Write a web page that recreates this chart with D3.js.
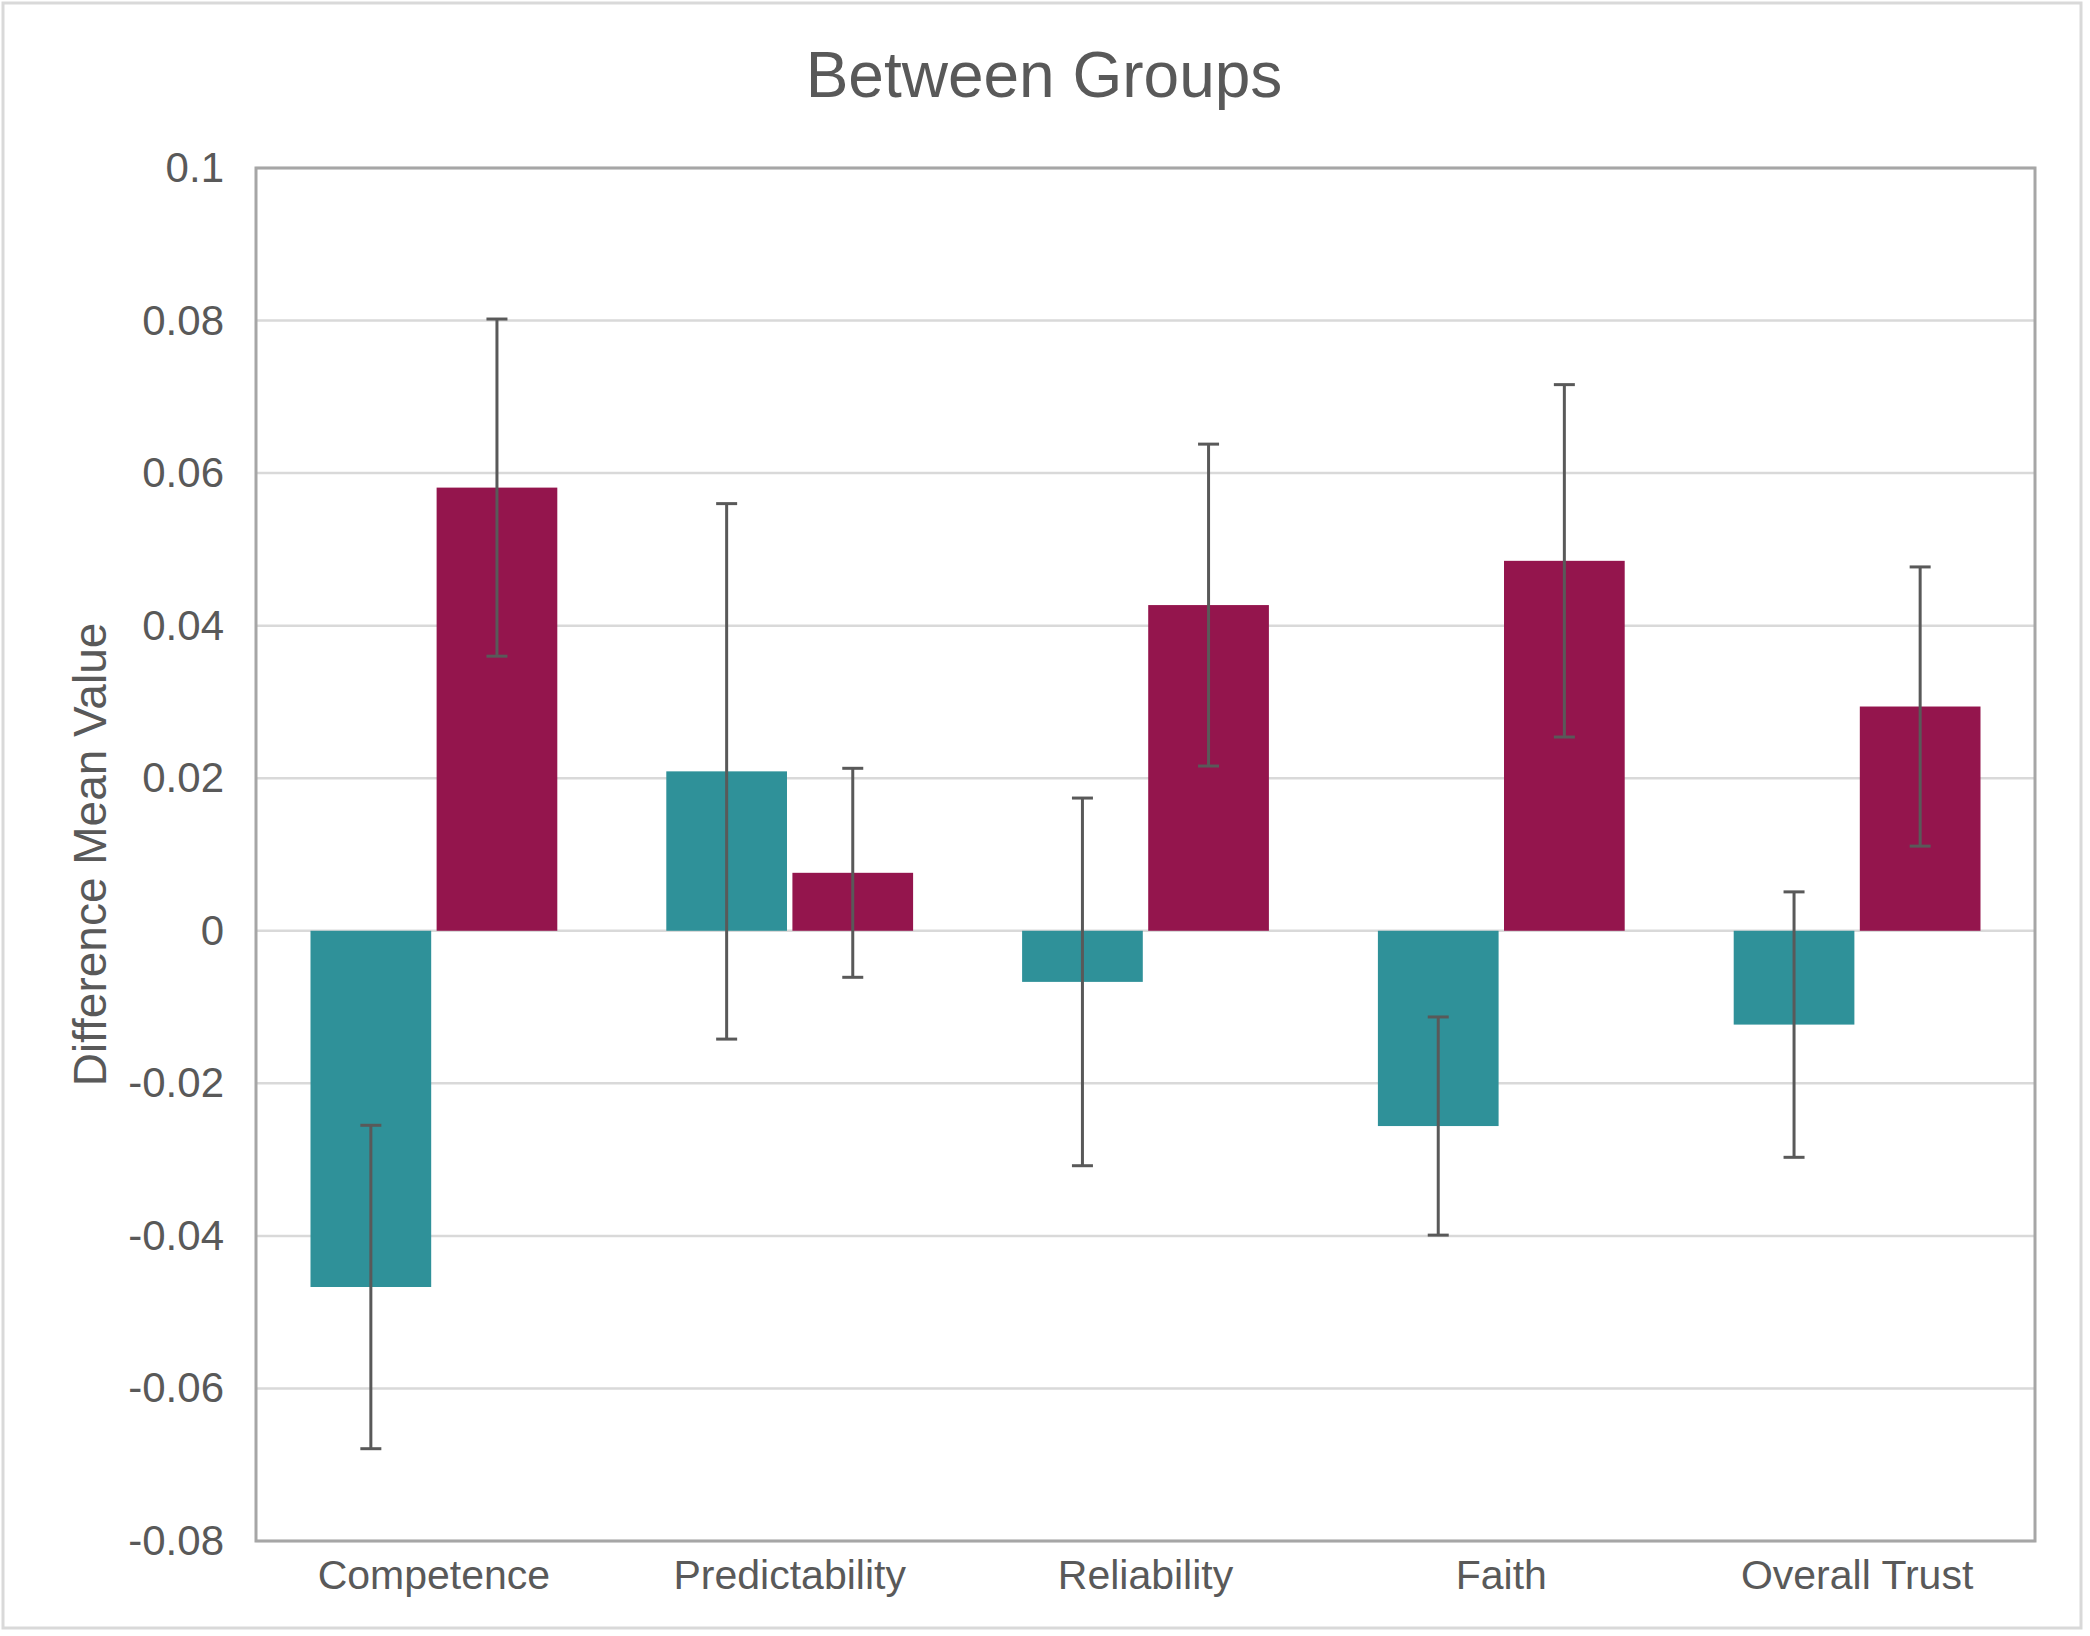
<!DOCTYPE html>
<html>
<head>
<meta charset="utf-8">
<script src="https://cdn.jsdelivr.net/npm/d3@7"></script>
<style>
  body { margin: 0; background: #fff; }
  text { font-family: "Liberation Sans", Arial, sans-serif; fill: #595959; }
</style>
</head>
<body>
<svg id="chart"></svg>
<script>
const width = 2090;
const height = 1636;

// values
const categories = ["Competence", "Predictability", "Reliability", "Faith", "Overall Trust"];
const teal = [-0.0467, 0.0209, -0.0067, -0.0256, -0.0123];
const tealErr = [0.0212, 0.0351, 0.0241, 0.0143, 0.0174];
const purple = [0.0581, 0.0076, 0.0427, 0.0485, 0.0294];
const purpleErr = [0.0221, 0.0137, 0.0211, 0.0231, 0.0183];
const yTicks = [-0.08, -0.06, -0.04, -0.02, 0, 0.02, 0.04, 0.06, 0.08, 0.1];

const series = [
    {key: "a", color: "#2f9199", values: teal, err: tealErr},
    {key: "b", color: "#94154d", values: purple, err: purpleErr}
];

const plot = {left: 256, right: 2035, top: 168, bottom: 1541};

const svg = d3.select("#chart")
    .attr("width", width)
    .attr("height", height);

// chart area border
svg.append("rect")
    .attr("x", 3).attr("y", 3)
    .attr("width", 2078).attr("height", 1625)
    .attr("fill", "#fff")
    .attr("stroke", "#d9d9d9")
    .attr("stroke-width", 3);

const x = d3.scaleBand()
    .domain(categories)
    .range([plot.left, plot.right]);

const bw = x.bandwidth();
const x1 = d3.scaleBand()
    .domain(series.map(s => s.key))
    .range([54.5, bw - 54.5])
    .paddingInner(0.043);

const y = d3.scaleLinear()
    .domain([-0.08, 0.1])
    .range([plot.bottom, plot.top]);

// gridlines
svg.append("g")
    .selectAll("line")
    .data(yTicks)
    .join("line")
    .attr("x1", plot.left)
    .attr("x2", plot.right)
    .attr("y1", d => y(d))
    .attr("y2", d => y(d))
    .attr("stroke", "#d9d9d9")
    .attr("stroke-width", 2.5);

// bars
const groups = svg.append("g")
    .selectAll("g")
    .data(series)
    .join("g")
    .attr("fill", d => d.color);

groups.selectAll("rect")
    .data(s => s.values.map((v, i) => ({key: s.key, cat: categories[i], v})))
    .join("rect")
    .attr("x", d => x(d.cat) + x1(d.key))
    .attr("width", x1.bandwidth())
    .attr("y", d => y(Math.max(0, d.v)))
    .attr("height", d => Math.abs(y(d.v) - y(0)));

// error bars
const errData = series.flatMap(s => s.values.map((v, i) => ({
    cx: x(categories[i]) + x1(s.key) + x1.bandwidth() / 2,
    lo: v - s.err[i],
    hi: v + s.err[i]
})));

const err = svg.append("g")
    .attr("stroke", "#595959")
    .attr("stroke-width", 3)
    .selectAll("g")
    .data(errData)
    .join("g");

err.append("line")
    .attr("x1", d => d.cx).attr("x2", d => d.cx)
    .attr("y1", d => y(d.lo)).attr("y2", d => y(d.hi));

err.append("line")
    .attr("x1", d => d.cx - 10.5).attr("x2", d => d.cx + 10.5)
    .attr("y1", d => y(d.hi)).attr("y2", d => y(d.hi));

err.append("line")
    .attr("x1", d => d.cx - 10.5).attr("x2", d => d.cx + 10.5)
    .attr("y1", d => y(d.lo)).attr("y2", d => y(d.lo));

// plot border
svg.append("rect")
    .attr("x", plot.left).attr("y", plot.top)
    .attr("width", plot.right - plot.left)
    .attr("height", plot.bottom - plot.top)
    .attr("fill", "none")
    .attr("stroke", "#a6a6a6")
    .attr("stroke-width", 3);

// axes
const yAxis = svg.append("g")
    .attr("transform", `translate(${plot.left},0)`)
    .call(d3.axisLeft(y)
        .tickValues(yTicks)
        .tickSize(0)
        .tickPadding(32)
        .tickFormat(d => d === 0 ? "0" : String(+d.toFixed(2))));
yAxis.select(".domain").remove();
yAxis.selectAll("text")
    .attr("font-size", 42)
    .attr("fill", "#595959")
    .style("font-family", '"Liberation Sans", Arial, sans-serif');

const xAxis = svg.append("g")
    .attr("transform", `translate(0,${plot.bottom})`)
    .call(d3.axisBottom(x).tickSize(0).tickPadding(19));
xAxis.select(".domain").remove();
xAxis.selectAll("text")
    .attr("font-size", 41)
    .attr("fill", "#595959")
    .style("font-family", '"Liberation Sans", Arial, sans-serif');

// titles
svg.append("text")
    .attr("x", 1044)
    .attr("y", 97)
    .attr("text-anchor", "middle")
    .attr("font-size", 64)
    .text("Between Groups");

svg.append("text")
    .attr("transform", `translate(106,${(plot.top + plot.bottom) / 2}) rotate(-90)`)
    .attr("text-anchor", "middle")
    .attr("font-size", 46)
    .text("Difference Mean Value");
</script>
</body>
</html>
